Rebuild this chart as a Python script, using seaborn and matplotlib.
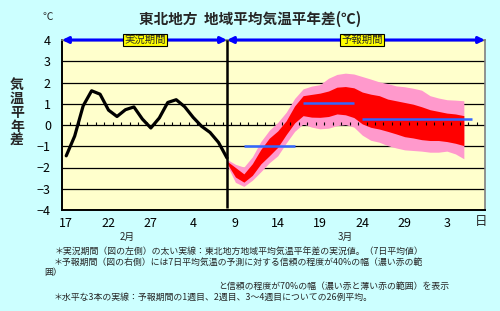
import numpy as np
import pandas as pd
import matplotlib
matplotlib.use("Agg")
import matplotlib.pyplot as plt
import seaborn as sns

# 日別カテゴリ 2/17 ～ 4/7
dates = pd.date_range("2011-02-17", "2011-04-07", freq="D")

# 実況値（7日平均気温平年差） 2/17 ～ 3/8
obs_anom = [-1.45, -0.52, 0.90, 1.61, 1.45, 0.70, 0.40, 0.72, 0.85, 0.28,
            -0.14, 0.33, 1.06, 1.19, 0.86, 0.36, -0.06, -0.35, -0.82, -1.55]

# 予報期間 3/8 ～ 4/5 の信頼幅
fc_start = "2011-03-08"
band70_hi = [-1.62, -1.85, -1.98, -1.50, -0.78, -0.25, 0.12, 0.60, 1.25, 1.70,
             1.83, 1.90, 2.20, 2.38, 2.44, 2.40, 2.28, 2.16, 2.03, 1.95,
             1.84, 1.80, 1.73, 1.64, 1.38, 1.27, 1.19, 1.17, 1.14]
band40_hi = [-1.70, -2.00, -2.30, -1.82, -1.15, -0.62, -0.28, 0.20, 0.90, 1.38,
             1.44, 1.50, 1.60, 1.78, 1.81, 1.75, 1.55, 1.45, 1.38, 1.22,
             1.14, 1.06, 0.98, 0.86, 0.72, 0.64, 0.56, 0.52, 0.44]
band40_lo = [-1.80, -2.45, -2.69, -2.37, -1.83, -1.45, -1.05, -0.45, 0.10, 0.44,
             0.37, 0.36, 0.40, 0.52, 0.48, 0.35, 0.05, -0.11, -0.19, -0.30,
             -0.42, -0.55, -0.61, -0.69, -0.73, -0.73, -0.78, -0.86, -0.97]
band70_lo = [-1.88, -2.70, -2.89, -2.60, -2.20, -1.78, -1.45, -0.85, -0.30, 0.05,
             -0.10, -0.18, -0.15, -0.03, 0.02, -0.10, -0.48, -0.72, -0.81, -0.97,
             -1.08, -1.17, -1.20, -1.23, -1.28, -1.28, -1.23, -1.36, -1.59]

# 1週目、2週目、3～4週目の26例平均
week_avg = [-0.97, 1.02, 0.26]
week_from = ["2011-03-10", "2011-03-17", "2011-03-24"]
week_to = ["2011-03-16", "2011-03-23", "2011-04-06"]

footnotes = [
    "＊実況期間（図の左側）の太い実線：東北地方地域平均気温平年差の実況値。（7日平均値）",
    "＊予報期間（図の右側）には7日平均気温の予測に対する信頼の程度が40%の幅（濃い赤の範",
    "囲）",
    "と信頼の程度が70%の幅（濃い赤と薄い赤の範囲）を表示",
    "＊水平な3本の実線：予報期間の1週目、2週目、3～4週目についての26例平均。",
]


def pos(d):
    return (pd.Timestamp(d) - dates[0]).days


sns.set_style("white")
plt.rcParams["font.family"] = ["Noto Sans CJK JP", "DejaVu Sans"]
plt.rcParams["axes.unicode_minus"] = False

W, H = 500, 311
fig = plt.figure(figsize=(W / 100, H / 100), dpi=100, facecolor="#CCFFFF")
ax = fig.add_axes([62 / W, 1 - 210 / H, (485 - 62) / W, (210 - 40) / H])
ax.set_facecolor("#FFFFCC")

x0 = pos(fc_start)
x_fc = np.arange(x0, x0 + len(band70_hi))
ax.fill_between(x_fc, band70_lo, band70_hi, color="#FF99CC", lw=0, zorder=2)
ax.fill_between(x_fc, band40_lo, band40_hi, color="#FF0000", lw=0, zorder=3)

df_obs = pd.DataFrame({"x": np.arange(len(obs_anom)), "anom": obs_anom})
sns.lineplot(data=df_obs, x="x", y="anom", color="black", lw=2.3, ax=ax, zorder=5)

ax.hlines(week_avg, [pos(d) for d in week_from], [pos(d) for d in week_to],
          color="#3366FF", lw=1.8, zorder=6)
ax.vlines(x0, -3.9, 4, color="black", lw=1.8, zorder=7)

# 0線上の日付目盛
ax.vlines(np.arange(0.5, len(dates) - 0.5), 0, 0.13, color="black", lw=0.8, zorder=4)

ax.set_xlim(-0.5, len(dates) - 0.5)
ax.set_ylim(-4, 4)
ax.set_yticks(range(-4, 5))
ax.set_yticklabels([str(v).replace("-", "−") for v in range(-4, 5)])
xt = list(range(0, len(dates), 5))
ax.set_xticks(xt)
ax.set_xticklabels([str(dates[i].day) for i in xt])
ax.tick_params(length=0, labelsize=9, colors="black")
ax.tick_params(axis="y", pad=8)
ax.tick_params(axis="x", pad=5)
ax.yaxis.grid(True, color="black", lw=0.9)
ax.xaxis.grid(False)
ax.set_xlabel("")
ax.set_ylabel("")
for s in ["left", "bottom"]:
    ax.spines[s].set_color("black")
    ax.spines[s].set_linewidth(1.4)
for s in ["right", "top"]:
    ax.spines[s].set_color("#808080")
    ax.spines[s].set_linewidth(1.2)

# 期間の矢印
arrow = dict(arrowstyle="<|-|>", color="#0000FF", lw=2.2, mutation_scale=9,
             shrinkA=0, shrinkB=0)
ax.annotate("", xy=(x0, 4), xytext=(-0.5, 4), arrowprops=arrow,
            annotation_clip=False, zorder=8)
ax.annotate("", xy=(len(dates) - 0.5, 4), xytext=(x0, 4), arrowprops=arrow,
            annotation_clip=False, zorder=8)
box = dict(boxstyle="square,pad=0.12", fc="#FFFF00", ec="black", lw=0.8)
ax.text(9.3, 4, "実況期間", ha="center", va="center", fontsize=7.5, bbox=box, zorder=9)
ax.text(35, 4, "予報期間", ha="center", va="center", fontsize=7.5, bbox=box, zorder=9)

fig.text(250 / W, 1 - 19 / H, "東北地方  地域平均気温平年差(℃)", ha="center",
         va="center", fontsize=10.5, fontweight="bold")
fig.text(48 / W, 1 - 17 / H, "℃", ha="center", va="center", fontsize=7.5)
fig.text(17 / W, 1 - 113 / H, "気\n温\n平\n年\n差", ha="center", va="center",
         fontsize=10, fontweight="bold", linespacing=1.0)
fig.text(127 / W, 1 - 237 / H, "2月", ha="center", va="center", fontsize=7)
fig.text(345 / W, 1 - 237 / H, "3月", ha="center", va="center", fontsize=7)
fig.text(481 / W, 1 - 222 / H, "日", ha="center", va="center", fontsize=9)

note_xy = [(55, 252), (54, 262), (44, 273), (218, 286), (54, 297)]
for (nx, ny), t in zip(note_xy, footnotes):
    fig.text(nx / W, 1 - ny / H, t, ha="left", va="center", fontsize=6.4)

fig.savefig("out.png", dpi=100, facecolor=fig.get_facecolor())
